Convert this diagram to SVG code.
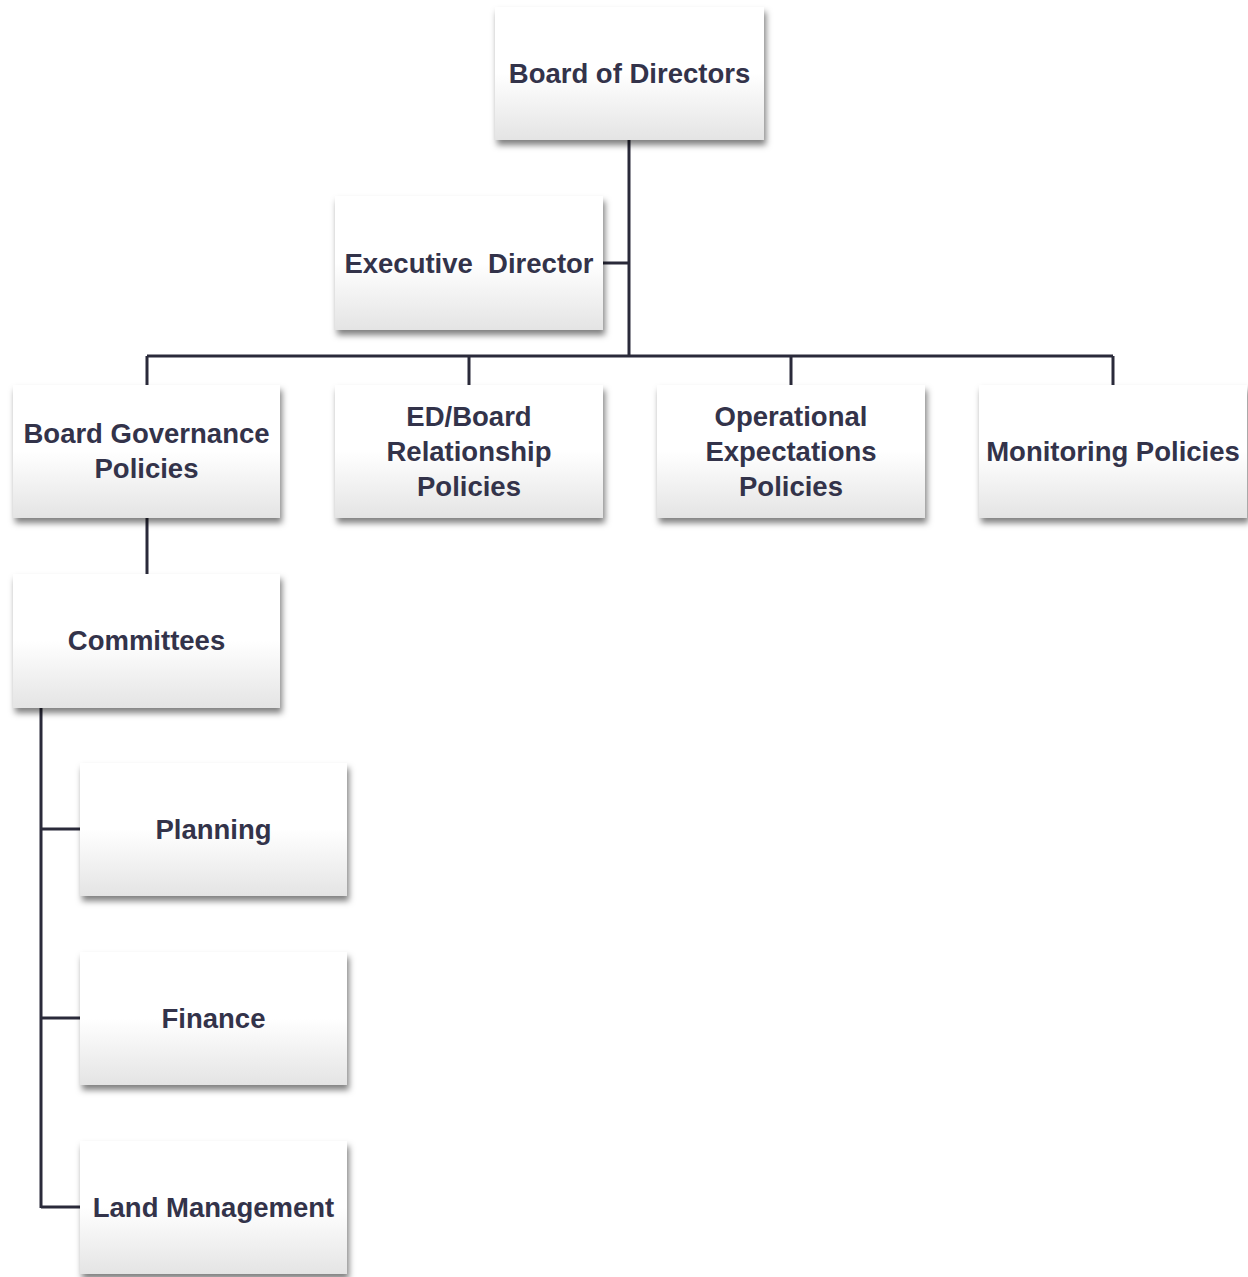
<svg xmlns="http://www.w3.org/2000/svg" width="1248" height="1277" viewBox="0 0 1248 1277">
<defs>
<linearGradient id="g" x1="0" y1="0" x2="0" y2="1">
<stop offset="0" stop-color="#ffffff"/>
<stop offset="0.5" stop-color="#ffffff"/>
<stop offset="1" stop-color="#e4e4e4"/>
</linearGradient>
<filter id="sh" x="-10%" y="-10%" width="125%" height="130%">
<feDropShadow dx="2" dy="5" stdDeviation="3" flood-color="#000" flood-opacity="0.5"/>
</filter>
</defs>
<style>
.box{fill:url(#g);filter:url(#sh)}
.t{font-family:"Liberation Sans",Arial,sans-serif;font-weight:bold;font-size:27.5px;fill:#33334a;text-anchor:middle;dominant-baseline:central;white-space:pre}
.c{stroke:#2a2a3a;stroke-width:3;fill:none}
</style>
<rect width="1248" height="1277" fill="#ffffff"/>
<g id="connectors">
<path class="c" d="M629 140V356M603 263H629M147 356H1113M147 356V385M469 356V385M791 356V385M1113 356V385M147 518V574M41 708V1208M41 829H80M41 1018H80M41 1207H80"/>
</g>
<g id="board"><rect class="box" x="495" y="7" width="269" height="133"/><text class="t" x="629.5" y="73">Board of Directors</text></g>
<g id="exec"><rect class="box" x="335" y="196" width="268" height="134"/><text class="t" x="469" y="263" xml:space="preserve">Executive  Director</text></g>
<g id="gov"><rect class="box" x="13" y="385" width="267" height="133"/><text class="t" x="146.5" y="433">Board Governance</text><text class="t" x="146.5" y="468">Policies</text></g>
<g id="edboard"><rect class="box" x="335" y="385" width="268" height="133"/><text class="t" x="469" y="416">ED/Board</text><text class="t" x="469" y="451">Relationship</text><text class="t" x="469" y="486">Policies</text></g>
<g id="opex"><rect class="box" x="657" y="385" width="268" height="133"/><text class="t" x="791" y="416">Operational</text><text class="t" x="791" y="451">Expectations</text><text class="t" x="791" y="486">Policies</text></g>
<g id="monitor"><rect class="box" x="979" y="385" width="268" height="133"/><text class="t" x="1113" y="451">Monitoring Policies</text></g>
<g id="committees"><rect class="box" x="13" y="574" width="267" height="134"/><text class="t" x="146.5" y="640">Committees</text></g>
<g id="planning"><rect class="box" x="80" y="763" width="267" height="133"/><text class="t" x="213.5" y="829">Planning</text></g>
<g id="finance"><rect class="box" x="80" y="952" width="267" height="133"/><text class="t" x="213.5" y="1018">Finance</text></g>
<g id="land"><rect class="box" x="80" y="1141" width="267" height="133"/><text class="t" x="213.5" y="1207">Land Management</text></g>
</svg>
